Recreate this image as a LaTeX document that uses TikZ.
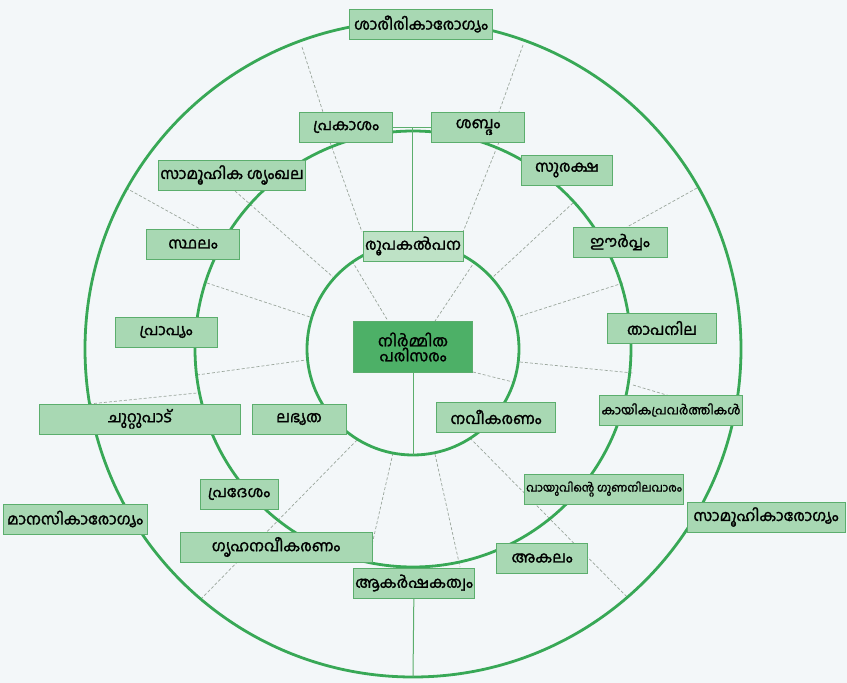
\documentclass[tikz,border=0pt]{standalone}
\usepackage{fontspec}
\newfontfamily\malfont[Script=Malayalam,AutoFakeBold=1.6]{Hind Kochi}
\usepackage{tikz}
\usetikzlibrary{backgrounds}
\definecolor{Ring}{HTML}{38A856}
\definecolor{Leaf}{HTML}{A8D8B3}
\definecolor{Edge}{HTML}{5BAE6D}
\definecolor{Hub}{HTML}{4DB067}
\definecolor{Paper}{HTML}{F3F7F9}
\definecolor{Spoke}{HTML}{9AA69C}

\begin{document}
\begin{tikzpicture}[x=1pt,y=-1pt,font=\malfont\bfseries\fontsize{15.5}{18}\selectfont,
  box/.style={draw=Edge,line width=1pt,fill=Leaf,minimum height=30pt,inner sep=2pt},
  hub/.style={box,fill=Hub,minimum height=51pt,minimum width=119pt,align=center},
  ring/.style={draw=Ring,line width=2.8pt},
  spoke/.style={draw=Spoke,line width=0.7pt,dash pattern=on 3pt off 2pt},
  link/.style={draw=Edge,line width=1pt}]
  \useasboundingbox (0,0) rectangle (847,683);
  \coordinate (c) at (413,349);
  % outer ring
  \node[box,minimum width=143pt] (body) at (421,24) {ശാരീരികാരോഗ്യം};
  \node[box,minimum width=144pt] (mind) at (75,519) {മാനസികാരോഗ്യം};
  \node[box,minimum width=158pt] (society) at (766,517) {സാമൂഹികാരോഗ്യം};
  % middle ring
  \node[box,minimum width=93pt] (light) at (346,127) {പ്രകാശം};
  \node[box,minimum width=93pt] (sound) at (478,127) {ശബ്ദം};
  \node[box,minimum width=145pt] (network) at (232,175) {സാമൂഹിക ശൃംഖല};
  \node[box,minimum width=91pt] (safety) at (567,170) {സുരക്ഷ};
  \node[box,minimum width=93pt] (place) at (193,244) {സ്ഥലം};
  \node[box,minimum width=94pt] (humid) at (620,242) {ഈർപ്പം};
  \node[box,minimum width=102pt] (access) at (166,332) {പ്രാപ്യം};
  \node[box,minimum width=109pt] (temp) at (662,328) {താപനില};
  \node[box,minimum width=201pt] (around) at (140,419) {ചുറ്റുപാട്};
  \node[box,minimum width=142pt,font=\malfont\bfseries\fontsize{12.5}{15}\selectfont] (activity) at (671,410) {കായികപ്രവർത്തികൾ};
  \node[box,minimum width=78pt] (region) at (239,494) {പ്രദേശം};
  \node[box,minimum width=147pt,font=\malfont\bfseries\fontsize{11.5}{13}\selectfont] (air) at (604,489) {വായുവിന്റെ ഗുണനിലവാരം};
  \node[box,minimum width=192pt] (homerenew) at (276,547) {ഗൃഹനവീകരണം};
  \node[box,minimum width=91pt] (gap) at (542,558) {അകലം};
  \node[box,minimum width=121pt] (appeal) at (414,583) {ആകർഷകത്വം};
  % inner ring
  \node[box,minimum width=100pt,fill=Leaf!75] (design) at (413,246) {രൂപകൽപന};
  \node[box,minimum width=94pt] (avail) at (299,419) {ലഭ്യത};
  \node[box,minimum width=119pt] (renew) at (496,417) {നവീകരണം};
  \node[hub] (env) at (413,347) {നിർമ്മിത\\[-3pt]പരിസരം};
  % connectors
  \coordinate (innerbot) at (413,455); \coordinate (outerbot) at (413,677);
  \draw[link] (light) -- node[coordinate] (join) {} (sound);
  \draw[link] (join) -- (join |- design.north);
  \draw[link] (env) -- (innerbot);\draw[link] (appeal) -- (outerbot);
  \begin{scope}[on background layer]
    \fill[Paper] (0,0) rectangle (847,683);
    \draw[spoke] (302,47)--(323,112) (330,142)--(362,232) (352,261)--(388,321);
    \draw[spoke] (523,45)--(499,112) (499,142)--(463,232) (475,261)--(435,321);
    \draw[spoke] (235,191)--(333,277) (126,188)--(200,229) (207,283)--(310,317);
    \draw[spoke] (573,203)--(493,277) (697,188)--(627,227) (623,283)--(517,317);
    \draw[spoke] (520,362)--(633,373) (473,372)--(513,382) (633,385)--(670,396);
    \draw[spoke] (197,375)--(306,360) (89,404)--(197,393);
    \draw[spoke] (357,440)--(200,600) (393,453)--(368,562) (435,454)--(460,567) (470,438)--(627,597);
    \draw[ring] (c) circle[radius=106pt] (c) circle[radius=218pt] (c) circle[radius=328pt];
  \end{scope}
\end{tikzpicture}
\end{document}
